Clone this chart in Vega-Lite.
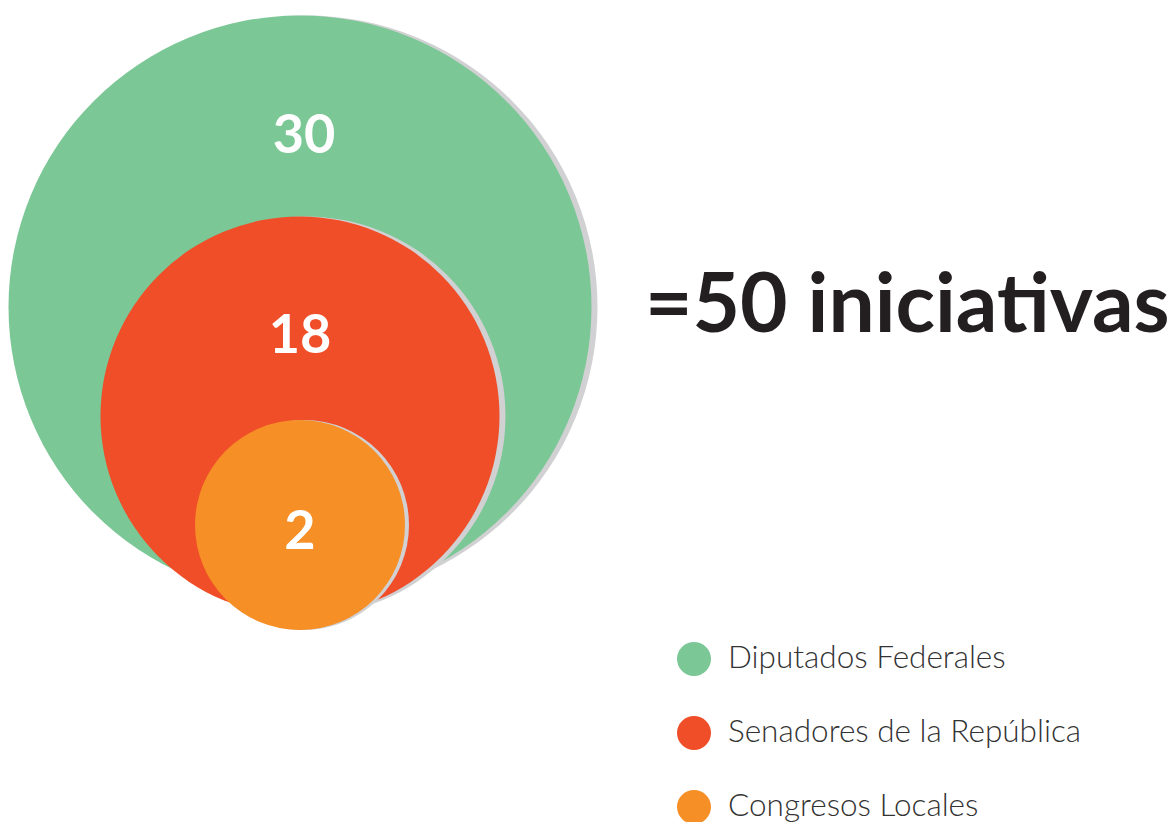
{
  "$schema": "https://vega.github.io/schema/vega-lite/v6.json",
  "width": 600,
  "height": 822,
  "autosize": {"type": "none"},
  "padding": {"left": 0, "top": 0, "right": 576, "bottom": 0},
  "background": "white",
  "config": {"view": {"stroke": null}, "font": "Lato"},
  "title": {
    "text": "=50 iniciativas",
    "orient": "top",
    "anchor": "start",
    "frame": "group",
    "offset": 0,
    "dx": 645,
    "dy": 414,
    "baseline": "alphabetic",
    "font": "Lato",
    "fontSize": 82,
    "fontWeight": "bold",
    "color": "#231F20"
  },
  "data": {
    "values": [
      {"grupo": "Diputados Federales", "iniciativas": 30},
      {"grupo": "Senadores de la República", "iniciativas": 18},
      {"grupo": "Congresos Locales", "iniciativas": 2}
    ]
  },
  "encoding": {
    "y": {
      "field": "grupo",
      "type": "nominal",
      "scale": {
        "type": "point",
        "domain": ["Diputados Federales", "Senadores de la República", "Congresos Locales"],
        "range": [307, 525],
        "padding": 0
      },
      "axis": null
    }
  },
  "layer": [
    {
      "transform": [{"filter": "datum.grupo === 'Diputados Federales'"}],
      "mark": {"type": "point", "filled": true, "opacity": 1, "shape": "circle", "color": "#D1D1D3", "xOffset": 6},
      "encoding": {"size": {"field": "iniciativas", "type": "quantitative", "scale": {"domain": [2, 18, 30], "range": [44100, 159201, 339889], "zero": false}, "legend": null}}
    },
    {
      "transform": [{"filter": "datum.grupo === 'Diputados Federales'"}],
      "mark": {"type": "point", "filled": true, "opacity": 1, "shape": "circle"},
      "encoding": {
        "size": {"field": "iniciativas", "type": "quantitative", "scale": {"domain": [2, 18, 30], "range": [44100, 159201, 339889], "zero": false}, "legend": null},
        "color": {"field": "grupo", "type": "nominal", "scale": {"domain": ["Diputados Federales", "Senadores de la República", "Congresos Locales"], "range": ["#7BC795", "#F04E29", "#F58F26"]},
          "legend": {"orient": "none", "legendX": 677, "legendY": 642, "title": null, "symbolSize": 1156, "symbolType": "circle", "symbolStrokeWidth": 0, "symbolOpacity": 1, "labelFont": "Lato Light, Lato", "labelFontWeight": 300, "labelFontSize": 31.5, "labelColor": "#333333", "labelOffset": 17, "rowPadding": 40, "labelLimit": 500, "padding": 0}}
      }
    },
    {
      "transform": [{"filter": "datum.grupo === 'Senadores de la República'"}],
      "mark": {"type": "point", "filled": true, "opacity": 1, "shape": "circle", "color": "#D1D1D3", "xOffset": 6},
      "encoding": {"size": {"field": "iniciativas", "type": "quantitative", "scale": {"domain": [2, 18, 30], "range": [44100, 159201, 339889], "zero": false}, "legend": null}}
    },
    {
      "transform": [{"filter": "datum.grupo === 'Senadores de la República'"}],
      "mark": {"type": "point", "filled": true, "opacity": 1, "shape": "circle"},
      "encoding": {
        "size": {"field": "iniciativas", "type": "quantitative", "scale": {"domain": [2, 18, 30], "range": [44100, 159201, 339889], "zero": false}, "legend": null},
        "color": {"field": "grupo", "type": "nominal", "scale": {"domain": ["Diputados Federales", "Senadores de la República", "Congresos Locales"], "range": ["#7BC795", "#F04E29", "#F58F26"]},
          "legend": {"orient": "none", "legendX": 677, "legendY": 642, "title": null, "symbolSize": 1156, "symbolType": "circle", "symbolStrokeWidth": 0, "symbolOpacity": 1, "labelFont": "Lato Light, Lato", "labelFontWeight": 300, "labelFontSize": 31.5, "labelColor": "#333333", "labelOffset": 17, "rowPadding": 40, "labelLimit": 500, "padding": 0}}
      }
    },
    {
      "transform": [{"filter": "datum.grupo === 'Congresos Locales'"}],
      "mark": {"type": "point", "filled": true, "opacity": 1, "shape": "circle", "color": "#D1D1D3", "xOffset": 4},
      "encoding": {"size": {"field": "iniciativas", "type": "quantitative", "scale": {"domain": [2, 18, 30], "range": [44100, 159201, 339889], "zero": false}, "legend": null}}
    },
    {
      "transform": [{"filter": "datum.grupo === 'Congresos Locales'"}],
      "mark": {"type": "point", "filled": true, "opacity": 1, "shape": "circle"},
      "encoding": {
        "size": {"field": "iniciativas", "type": "quantitative", "scale": {"domain": [2, 18, 30], "range": [44100, 159201, 339889], "zero": false}, "legend": null},
        "color": {"field": "grupo", "type": "nominal", "scale": {"domain": ["Diputados Federales", "Senadores de la República", "Congresos Locales"], "range": ["#7BC795", "#F04E29", "#F58F26"]},
          "legend": {"orient": "none", "legendX": 677, "legendY": 642, "title": null, "symbolSize": 1156, "symbolType": "circle", "symbolStrokeWidth": 0, "symbolOpacity": 1, "labelFont": "Lato Light, Lato", "labelFontWeight": 300, "labelFontSize": 31.5, "labelColor": "#333333", "labelOffset": 17, "rowPadding": 40, "labelLimit": 500, "padding": 0}}
      }
    },
    {
      "transform": [{"filter": "datum.grupo === 'Diputados Federales'"}],
      "mark": {"type": "text", "color": "white", "font": "Lato", "fontWeight": "bold", "fontSize": 54, "baseline": "alphabetic", "align": "center", "yOffset": -154, "xOffset": 4},
      "encoding": {"text": {"field": "iniciativas", "type": "quantitative"}}
    },
    {
      "transform": [{"filter": "datum.grupo === 'Senadores de la República'"}],
      "mark": {"type": "text", "color": "white", "font": "Lato", "fontWeight": "bold", "fontSize": 54, "baseline": "alphabetic", "align": "center", "yOffset": -63},
      "encoding": {"text": {"field": "iniciativas", "type": "quantitative"}}
    },
    {
      "transform": [{"filter": "datum.grupo === 'Congresos Locales'"}],
      "mark": {"type": "text", "color": "white", "font": "Lato", "fontWeight": "bold", "fontSize": 54, "baseline": "alphabetic", "align": "center", "yOffset": 24},
      "encoding": {"text": {"field": "iniciativas", "type": "quantitative"}}
    }
  ]
}
